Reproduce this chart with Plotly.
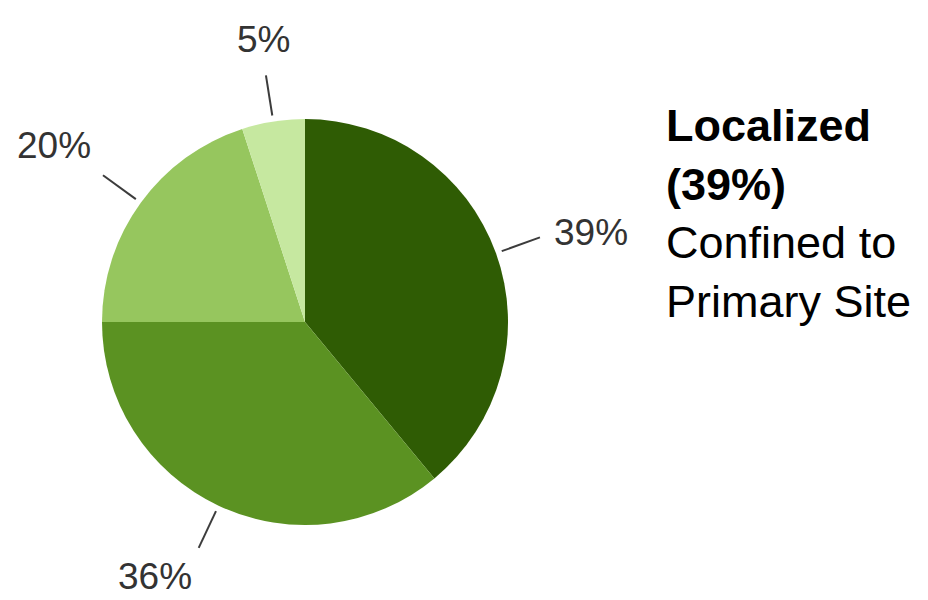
import math
import plotly.graph_objects as go

# Stage distribution
stages = ["Localized", "Regional", "Distant", "Unknown"]
shares = [39, 36, 20, 5]
colors = ["#2f5c04", "#5b9222", "#96c65e", "#c6e8a0"]

W, H = 928, 600
cx, cy, R = 305, 322, 203  # pie centre and radius in pixels

fig = go.Figure()

fig.add_trace(go.Pie(
    labels=stages,
    values=shares,
    sort=False,
    direction="clockwise",
    rotation=0,
    marker=dict(colors=colors, line=dict(width=0)),
    textinfo="none",
    hoverinfo="label+percent",
    showlegend=False,
    domain=dict(x=[(cx - R) / W, (cx + R) / W],
                y=[(H - cy - R) / H, (H - cy + R) / H]),
))

# Leader lines and percentage labels placed around the pie
total = sum(shares)
start = 0.0
for stage, v in zip(stages, shares):
    mid = math.radians((start + v / 2) / total * 360)
    start += v
    s, c = math.sin(mid), math.cos(mid)
    x0, y0 = cx + 1.03 * R * s, cy - 1.03 * R * c
    x1, y1 = cx + 1.23 * R * s, cy - 1.23 * R * c
    fig.add_trace(go.Scatter(
        x=[x0, x1], y=[y0, y1], mode="lines",
        line=dict(color="#3c3c3c", width=2),
        hoverinfo="skip", showlegend=False,
    ))
    xa = "left" if s > 0.3 else ("right" if s < -0.3 else "center")
    ya = "bottom" if c > 0.5 else ("top" if c < -0.5 else "middle")
    fig.add_annotation(
        x=cx + 1.3 * R * s, y=cy - 1.3 * R * c,
        xref="x", yref="y", text=f"{v}%", showarrow=False,
        xanchor=xa, yanchor=ya, borderpad=0,
        yshift=6 if ya == "top" else 0,
        font=dict(family="Liberation Sans, Arial, sans-serif", size=37, color="#333333"),
    )

fig.add_annotation(
    x=664, y=98, xref="x", yref="y",
    text="<b>Localized<br>(39%)</b><br>Confined to<br>Primary Site",
    showarrow=False, xanchor="left", yanchor="top", align="left",
    font=dict(family="Liberation Sans, Arial, sans-serif", size=45, color="#000000"),
)

fig.update_layout(
    width=W, height=H,
    margin=dict(l=0, r=0, t=0, b=0),
    paper_bgcolor="white", plot_bgcolor="white",
    xaxis=dict(range=[0, W], visible=False, fixedrange=True),
    yaxis=dict(range=[H, 0], visible=False, fixedrange=True),
)

fig.write_html("out.html")
